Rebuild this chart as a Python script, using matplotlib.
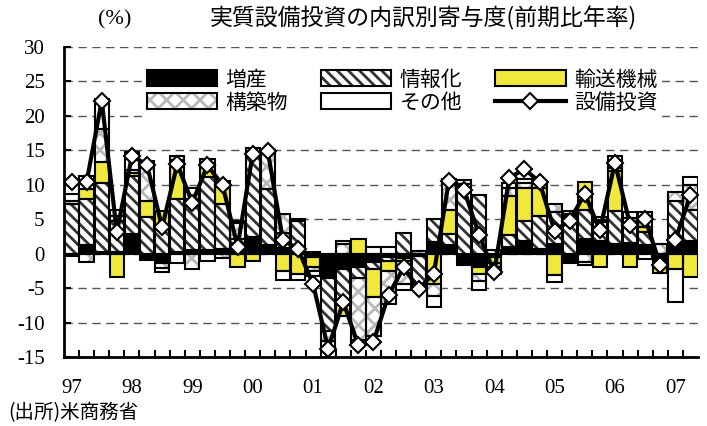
import matplotlib
matplotlib.use('Agg')
import matplotlib.pyplot as plt
import numpy as np
from matplotlib.patches import Patch
from matplotlib.lines import Line2D
from matplotlib.legend_handler import HandlerTuple

plt.rcParams['font.family'] = ['Noto Sans CJK JP', 'DejaVu Sans']
plt.rcParams['axes.unicode_minus'] = False
plt.rcParams['hatch.linewidth'] = 2.0

# 四半期データ 1997Q1 - 2007Q2
year_labels = ['97', '98', '99', '00', '01', '02', '03', '04', '05', '06', '07']

zousan = [-0.3, 1.2, 0.3, 0.2, 2.9, -0.9, -1.3, 0.3, 0.6, 0.6,
          0.7, 1.4, 2.4, 1.2, 0.8, 1.0, -0.5, -3.6, -2.2, -2.0,
          -1.2, -0.5, -0.6, -0.4, 1.7, 1.2, -1.7, -2.0, -0.5, 1.0,
          1.9, 0.7, 1.4, -1.3, 2.2, 1.8, 1.4, 1.6, 1.2, -1.6,
          2.4, 1.9]
jouhou = [7.2, 6.8, 9.9, 4.6, 8.4, 5.3, 4.0, 7.7, 7.3, 10.6,
          6.5, 0.8, 11.6, 8.2, 2.2, 3.8, 0.2, -7.6, -5.2, -1.5,
          -1.0, -0.6, 3.0, -4.6, 3.3, 1.7, 10.1, 8.5, 0.5, 1.7,
          2.9, 4.8, 4.6, 5.5, 4.1, 2.8, 4.8, 2.4, 2.0, 0.0,
          5.3, 4.5]
yusou = [0.0, 1.4, 3.1, -3.4, 0.4, 2.4, 2.2, 5.6, 0.0, 1.5,
         2.5, -1.9, -1.1, 0.0, -2.5, -3.0, -1.5, 0.0, -1.6, 2.2,
         -4.1, -1.4, -0.5, 0.0, -4.4, 3.4, 0.0, -1.0, -0.8, 5.6,
         4.8, 4.1, -3.1, 0.0, 4.1, -2.0, 5.8, -2.0, 0.7, -1.2,
         -2.2, -3.4]
kouchiku = [0.5, -1.2, 4.8, 0.7, 0.5, 5.5, -0.8, 0.6, -2.2, 1.0,
            -0.6, 2.2, 0.4, 5.2, 2.8, 0.2, -0.5, -1.5, 1.4, -9.0,
            -5.6, -4.8, -3.3, 0.4, -1.8, 4.1, 0.0, -1.0, -0.7, 1.3,
            0.6, 0.0, 1.2, 0.3, -1.2, 0.3, 0.5, 1.2, 2.2, 1.4,
            1.2, 3.6]
sonota = [1.0, 1.9, 4.3, 0.8, 2.5, 0.3, -0.6, -1.4, 1.6, -1.1,
          0.9, 0.4, 0.9, 0.4, -1.3, -0.8, -0.8, -1.0, 0.4, -0.6,
          0.9, 1.0, -0.9, 0.0, -1.5, 0.4, 0.6, -1.3, -0.9, 0.7,
          0.6, 0.7, -1.0, 0.4, -0.4, 0.4, 1.7, 0.9, -0.8, 0.0,
          -4.8, 1.2]
setsubi = [10.4, 10.4, 22.2, 3.1, 14.2, 12.9, 3.8, 13.0, 7.4, 12.8,
           10.0, 1.0, 14.5, 14.9, 2.0, 0.7, -4.4, -13.8, -7.0, -13.3,
           -12.8, -6.0, -2.0, -5.1, -2.9, 10.6, 9.3, 2.7, -2.7, 11.0,
           12.3, 10.4, 3.3, 4.8, 8.7, 3.4, 13.2, 4.2, 5.1, -1.7,
           2.0, 8.5]

series = [
    ('増産', zousan, 'black', None, 'black'),
    ('情報化', jouhou, 'white', '\\\\\\', '#333333'),
    ('輸送機械', yusou, '#F0E83C', None, '#F0E83C'),
    ('構築物', kouchiku, 'white', 'xx', '#b8b8b8'),
    ('その他', sonota, 'white', None, 'white'),
]

fig = plt.figure(figsize=(7.07, 4.26), dpi=100)
ax = fig.add_axes([64 / 707, 1 - 357 / 426, (698 - 64) / 707, (357 - 47) / 426])

x = np.arange(len(setsubi))
width = 0.95
pos_base = np.zeros(len(x))
neg_base = np.zeros(len(x))
handles = {}
for label, vals, face, hatch, hcol in series:
    v = np.array(vals)
    bottom = np.where(v >= 0, pos_base, neg_base)
    ax.bar(x, v, width, bottom=bottom, color=face, hatch=hatch,
           edgecolor=hcol, linewidth=0, zorder=2)
    ax.bar(x, v, width, bottom=bottom, fill=False, edgecolor='black',
           linewidth=1.5, zorder=3)
    pos_base += np.where(v > 0, v, 0)
    neg_base += np.where(v < 0, v, 0)
    handles[label] = (Patch(facecolor=face, hatch=hatch, edgecolor=hcol, linewidth=0),
                      Patch(fill=False, edgecolor='black', linewidth=1.5))

ax.plot(x, setsubi, color='black', lw=3, marker='D', ms=8,
        mfc='white', mec='black', mew=1.5, zorder=4)
handles['設備投資'] = Line2D([], [], color='black', lw=3, marker='D', ms=8,
                         mfc='white', mec='black', mew=1.5)

ax.set_xlim(-0.5, len(x) - 0.5)
ax.set_ylim(-15, 30)
yt = np.arange(-15, 31, 5)
ax.set_yticks(yt)
ax.set_yticklabels([str(v) for v in yt], fontfamily='Liberation Serif', fontsize=15)
ax.set_xticks(np.arange(0, len(x), 4))
ax.set_xticklabels(year_labels, fontfamily='Liberation Serif', fontsize=15)
ax.set_xticks(np.arange(0.5, len(x) - 1, 1), minor=True)
ax.tick_params(axis='x', which='major', length=0, pad=16)
ax.tick_params(axis='x', which='minor', direction='in', length=5, width=1.5)
ax.tick_params(axis='y', direction='in', length=5, width=1.5, pad=14)

for s in ['top', 'right']:
    ax.spines[s].set_visible(False)
for s in ['left', 'bottom']:
    ax.spines[s].set_linewidth(2)
    ax.spines[s].set_zorder(5)
ax.yaxis.grid(True, linestyle=(0, (6, 4)), color='#555555', linewidth=1, zorder=0)
ax.set_axisbelow(True)

order = ['増産', '構築物', '情報化', 'その他', '輸送機械', '設備投資']
leg = ax.legend([handles[k] for k in order], order, ncol=3,
                handler_map={tuple: HandlerTuple(ndivide=1)},
                loc='upper left', bbox_to_anchor=(132 / 707, 1 - 54 / 426),
                bbox_transform=fig.transFigure, fontsize=15,
                handlelength=3.4, handleheight=0.8, handletextpad=0.4,
                columnspacing=1.55, labelspacing=0.05, borderpad=0.2,
                frameon=True, framealpha=1, edgecolor='none', fancybox=False)
leg.set_zorder(6)

fig.text(423 / 707, 1 - 18 / 426, '実質設備投資の内訳別寄与度(前期比年率)',
         ha='center', va='center', fontsize=16.5)
fig.text(115 / 707, 1 - 20 / 426, '(%)', ha='center', va='center', fontsize=16,
         fontfamily='Liberation Serif')
fig.text(8 / 707, 1 - 413 / 426, '(出所)米商務省', ha='left', va='center', fontsize=14)

fig.savefig('out.png', dpi=100)
